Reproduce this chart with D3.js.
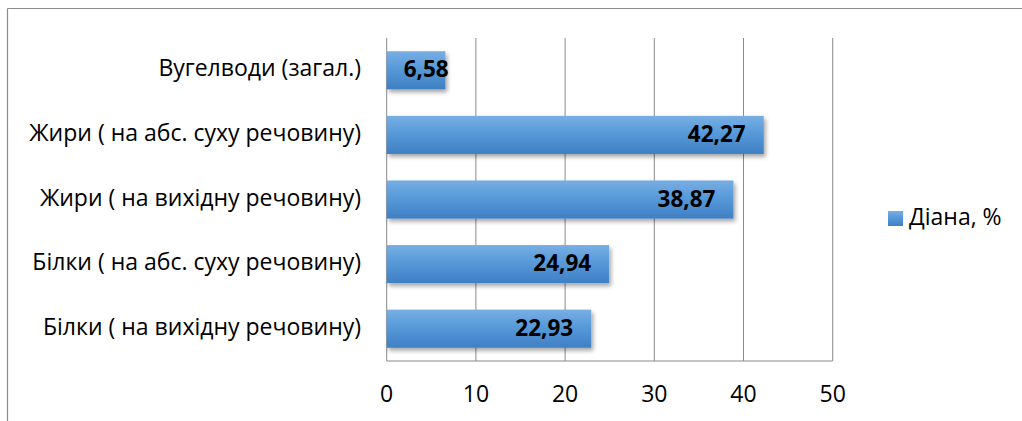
<!DOCTYPE html>
<html><head><meta charset="utf-8">
<script src="https://cdn.jsdelivr.net/npm/d3@7/dist/d3.min.js"></script>
<style>
html,body{margin:0;padding:0;background:#fff;}
svg{display:block;}
text{font-family:"Open Sans","Noto Sans",sans-serif;}
</style></head>
<body>
<svg id="chart" width="1022" height="421"></svg>
<script>
const categories = [
  "Вугелводи (загал.)",
  "Жири ( на абс. суху речовину)",
  "Жири ( на вихідну речовину)",
  "Білки ( на абс. суху речовину)",
  "Білки ( на вихідну речовину)"
];
const values = [6.58, 42.27, 38.87, 24.94, 22.93];
const valueLabels = ["6,58", "42,27", "38,87", "24,94", "22,93"];
const xTicks = [0, 10, 20, 30, 40, 50];
const seriesName = "Діана, %";

const svg = d3.select("#chart");
const W = 1022, H = 421;

// outer frame (top and left edges visible)
svg.append("line").attr("x1", 7.5).attr("x2", W).attr("y1", 8.5).attr("y2", 8.5)
  .attr("stroke", "#8c8c8c").attr("stroke-width", 1.2);
svg.append("line").attr("x1", 7.5).attr("x2", 7.5).attr("y1", 8.5).attr("y2", H)
  .attr("stroke", "#8c8c8c").attr("stroke-width", 1.2);

const plot = {left: 386.7, right: 832.7, top: 38, bottom: 361};
const x = d3.scaleLinear().domain([0, 50]).range([plot.left, plot.right]);
const y = d3.scaleBand().domain(categories).range([plot.top, plot.bottom]).paddingInner(0.41).paddingOuter(0.205);

const defs = svg.append("defs");
const grad = defs.append("linearGradient").attr("id", "barGrad")
  .attr("x1", 0).attr("y1", 0).attr("x2", 0).attr("y2", 1);
grad.append("stop").attr("offset", "0%").attr("stop-color", "#78aee3");
grad.append("stop").attr("offset", "45%").attr("stop-color", "#579ad9");
grad.append("stop").attr("offset", "100%").attr("stop-color", "#3f7fc4");
const flt = defs.append("filter").attr("id", "shadow").attr("x", "-10%").attr("y", "-20%").attr("width", "130%").attr("height", "160%");
flt.append("feGaussianBlur").attr("in", "SourceAlpha").attr("stdDeviation", 2.2);
flt.append("feOffset").attr("dx", 2).attr("dy", 3).attr("result", "ob");
flt.append("feComponentTransfer").append("feFuncA").attr("type", "linear").attr("slope", 0.35);
const fm = flt.append("feMerge");
fm.append("feMergeNode");
fm.append("feMergeNode").attr("in", "SourceGraphic");

// gridlines
svg.append("g").selectAll("line").data(xTicks).join("line")
  .attr("x1", d => x(d)).attr("x2", d => x(d))
  .attr("y1", plot.top).attr("y2", plot.bottom)
  .attr("stroke", "#8a8a8a").attr("stroke-width", 1);

// bottom axis line
svg.append("line").attr("x1", plot.left).attr("x2", plot.right)
  .attr("y1", plot.bottom).attr("y2", plot.bottom)
  .attr("stroke", "#8a8a8a").attr("stroke-width", 1.2);

// tick labels
svg.append("g").selectAll("text").data(xTicks).join("text")
  .attr("x", d => x(d)).attr("y", 396)
  .attr("text-anchor", "middle").attr("dominant-baseline", "middle")
  .attr("font-size", 23).attr("fill", "#000")
  .text(d => d);

// bars
svg.append("g").selectAll("rect").data(values).join("rect")
  .attr("x", x(0)).attr("y", (d, i) => y(categories[i]))
  .attr("width", d => x(d) - x(0)).attr("height", y.bandwidth())
  .attr("fill", "url(#barGrad)").attr("filter", "url(#shadow)");

// category labels
svg.append("g").selectAll("text").data(categories).join("text")
  .attr("x", 361).attr("y", d => y(d) + y.bandwidth() / 2)
  .attr("text-anchor", "end").attr("dominant-baseline", "middle")
  .attr("font-size", 23).attr("fill", "#000")
  .text(d => d);

// value labels
svg.append("g").selectAll("text").data(values).join("text")
  .attr("x", d => Math.max(x(d) - 18, x(0) + 62))
  .attr("y", (d, i) => y(categories[i]) + y.bandwidth() / 2 + 1)
  .attr("text-anchor", "end").attr("dominant-baseline", "middle")
  .attr("font-size", 22.5).attr("font-weight", "bold").attr("fill", "#000")
  .text((d, i) => valueLabels[i]);

// legend
const lg = svg.append("g");
lg.append("rect").attr("x", 888).attr("y", 211).attr("width", 15).attr("height", 15)
  .attr("fill", "url(#barGrad)");
lg.append("text").attr("x", 909).attr("y", 219)
  .attr("dominant-baseline", "middle").attr("font-size", 23).attr("fill", "#000")
  .text(seriesName);
</script>
</body></html>
